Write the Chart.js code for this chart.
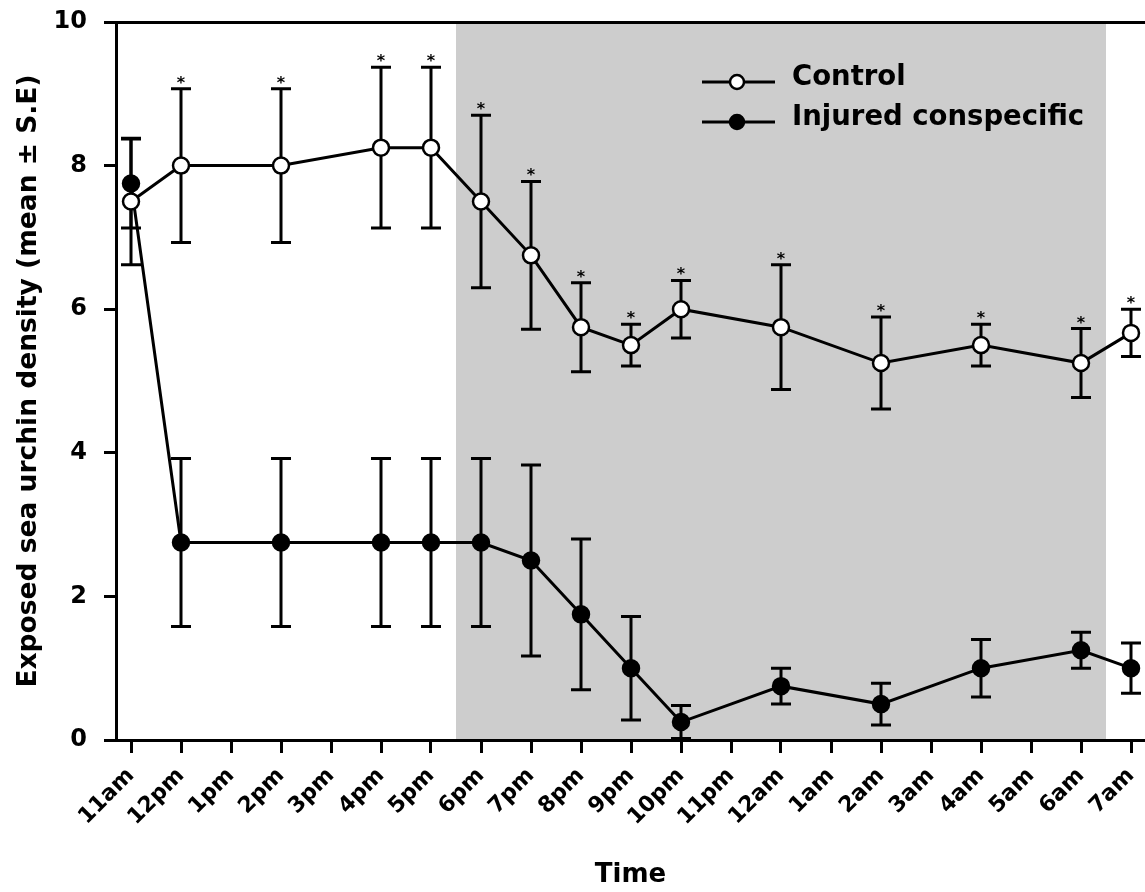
<!DOCTYPE html>
<html><head><meta charset="utf-8">
<script src="https://cdn.jsdelivr.net/npm/chart.js@4.4.1/dist/chart.umd.min.js"></script>
<style>html,body{margin:0;padding:0;background:#fff}canvas{display:block}</style>
</head><body>
<canvas id="c" width="1145" height="892"></canvas>
<script>
const timeLabels = ['11am','12pm','1pm','2pm','3pm','4pm','5pm','6pm','7pm','8pm','9pm','10pm','11pm','12am','1am','2am','3am','4am','5am','6am','7am'];
const sampleTimes = ['11am','12pm','2pm','4pm','5pm','6pm','7pm','8pm','9pm','10pm','12am','2am','4am','6am','7am'];
const controlMean = [7.5, 8.0, 8.0, 8.25, 8.25, 7.5, 6.75, 5.75, 5.5, 6.0, 5.75, 5.25, 5.5, 5.25, 5.67];
const controlSE   = [0.88, 1.07, 1.07, 1.12, 1.12, 1.2, 1.03, 0.62, 0.29, 0.4, 0.87, 0.64, 0.29, 0.48, 0.33];
const injuredMean = [7.75, 2.75, 2.75, 2.75, 2.75, 2.75, 2.5, 1.75, 1.0, 0.25, 0.75, 0.5, 1.0, 1.25, 1.0];
const injuredSE   = [0.62, 1.17, 1.17, 1.17, 1.17, 1.17, 1.33, 1.05, 0.72, 0.23, 0.25, 0.29, 0.4, 0.25, 0.35];
const significant = [false, true, true, true, true, true, true, true, true, true, true, true, true, true, true];
const darkPeriod = [6.5, 19.5]; // between 5pm-6pm and 6am-7am
const seriesNames = ['Control', 'Injured conspecific'];
const yTicks = [0, 2, 4, 6, 8, 10];

const FAMILY = "'DejaVu Sans', sans-serif";
const xIndex = sampleTimes.map(t => timeLabels.indexOf(t));
const toPoints = arr => arr.map((v, i) => ({x: xIndex[i], y: v}));
const seriesSE = [controlSE, injuredSE];
const seriesMean = [controlMean, injuredMean];

const overlay = {
  id: 'overlay',
  beforeDraw(chart) {
    const {ctx, chartArea: a, scales: {x}} = chart;
    const x0 = x.getPixelForValue(darkPeriod[0]);
    const x1 = x.getPixelForValue(darkPeriod[1]);
    ctx.save();
    ctx.fillStyle = '#cdcdcd';
    ctx.fillRect(x0, a.top, x1 - x0, a.bottom - a.top);
    ctx.restore();
  },
  beforeDatasetsDraw(chart) {
    const {ctx, scales: {x, y}} = chart;
    ctx.save();
    ctx.strokeStyle = '#000';
    ctx.lineWidth = 3;
    ctx.lineCap = 'butt';
    seriesMean.forEach((means, s) => {
      means.forEach((m, i) => {
        const px = x.getPixelForValue(xIndex[i]);
        const top = y.getPixelForValue(m + seriesSE[s][i]);
        const bot = y.getPixelForValue(Math.max(0, m - seriesSE[s][i]));
        ctx.beginPath();
        ctx.moveTo(px, top); ctx.lineTo(px, bot);
        ctx.moveTo(px - 10, top); ctx.lineTo(px + 10, top);
        ctx.moveTo(px - 10, bot); ctx.lineTo(px + 10, bot);
        ctx.stroke();
      });
    });
    ctx.restore();
  },
  afterDatasetsDraw(chart) {
    const {ctx, scales: {x, y}} = chart;
    ctx.save();
    ctx.fillStyle = '#000';
    ctx.font = `bold 16px ${FAMILY}`;
    ctx.textAlign = 'center';
    ctx.textBaseline = 'alphabetic';
    controlMean.forEach((m, i) => {
      if (!significant[i]) return;
      const px = x.getPixelForValue(xIndex[i]);
      const top = y.getPixelForValue(m + controlSE[i]);
      ctx.fillText('*', px, top - 1);
    });
    ctx.restore();
  },
  afterDraw(chart) {
    const {ctx} = chart;
    ctx.save();
    chart.data.datasets.forEach((ds, i) => {
      const ly = 82 + i * 40;
      ctx.strokeStyle = '#000';
      ctx.lineWidth = 3;
      ctx.beginPath(); ctx.moveTo(702, ly); ctx.lineTo(775, ly); ctx.stroke();
      ctx.beginPath(); ctx.arc(737, ly, 7, 0, Math.PI * 2);
      ctx.fillStyle = ds.pointBackgroundColor; ctx.fill();
      ctx.lineWidth = 2.5; ctx.stroke();
      ctx.fillStyle = '#000';
      ctx.font = `bold 27.5px ${FAMILY}`;
      ctx.textAlign = 'left';
      ctx.textBaseline = 'middle';
      ctx.fillText(ds.label, 792, ly - 4);
    });
    ctx.restore();
  }
};

new Chart(document.getElementById('c'), {
  type: 'line',
  data: {
    datasets: [
      {label: seriesNames[0], data: toPoints(controlMean), borderColor: '#000', borderWidth: 3,
       pointRadius: 8, pointHoverRadius: 8, pointBackgroundColor: '#fff', pointBorderColor: '#000', pointBorderWidth: 2.5, tension: 0},
      {label: seriesNames[1], data: toPoints(injuredMean), borderColor: '#000', borderWidth: 3,
       pointRadius: 8, pointHoverRadius: 8, pointBackgroundColor: '#000', pointBorderColor: '#000', pointBorderWidth: 2.5, tension: 0}
    ]
  },
  options: {
    responsive: false,
    animation: false,
    layout: {autoPadding: false, padding: {top: 22, right: 0, left: 0, bottom: 0}},
    plugins: {legend: {display: false}, tooltip: {enabled: false}},
    scales: {
      x: {
        type: 'linear', min: -0.3, max: 20.28,
        afterBuildTicks: ax => { ax.ticks = timeLabels.map((_, i) => ({value: i})); },
        afterFit: ax => { ax.height = 152; ax.paddingLeft = 0; ax.paddingRight = 0; },
        grid: {drawOnChartArea: false, drawTicks: true, tickLength: 13, tickWidth: 3, tickColor: '#000'},
        border: {display: true, color: '#000', width: 3},
        ticks: {autoSkip: false, minRotation: 45, maxRotation: 45, padding: 10, color: '#000',
                font: {family: FAMILY, size: 22, weight: 'bold'},
                callback: v => timeLabels[v]},
        title: {display: true, text: 'Time', color: '#000', font: {family: FAMILY, size: 26, weight: 'bold'},
                padding: {top: 0, bottom: 1}}
      },
      y: {
        min: 0, max: 10,
        afterBuildTicks: ax => { ax.ticks = yTicks.map(v => ({value: v})); },
        afterFit: ax => { ax.width = 116; ax.paddingTop = 0; },
        grid: {drawOnChartArea: true, color: c => (c.tick && c.tick.value === 10) ? '#000' : 'rgba(0,0,0,0)',
               lineWidth: 3, tickLength: 12, tickWidth: 3, tickColor: '#000'},
        border: {display: true, color: '#000', width: 3},
        ticks: {padding: 17, color: '#000', font: {family: FAMILY, size: 24, weight: 'bold'}},
        title: {display: true, text: 'Exposed sea urchin density (mean ± S.E)', color: '#000',
                font: {family: FAMILY, size: 26.5, weight: 'bold'}, padding: {top: 13, bottom: 0}}
      }
    }
  },
  plugins: [overlay]
});
</script>
</body></html>
